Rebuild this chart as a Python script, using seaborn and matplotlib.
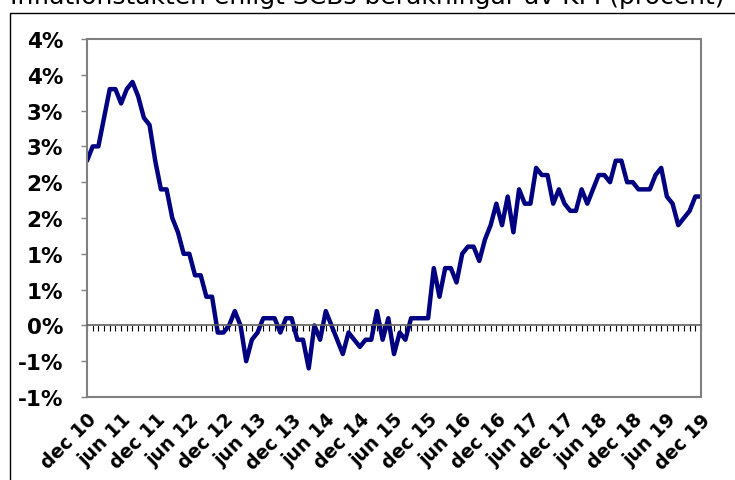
import matplotlib
matplotlib.use("Agg")
import matplotlib.pyplot as plt
from matplotlib.patches import Rectangle
import pandas as pd
import seaborn as sns

# Data: KPI inflation (percent), monthly dec 2010 - dec 2019
title = "Inflationstakten enligt SCBs beräkningar av KPI (procent)"
sv_months = ["jan", "feb", "mar", "apr", "maj", "jun", "jul", "aug", "sep", "okt", "nov", "dec"]
dates = pd.date_range("2010-12-01", "2019-12-01", freq="MS")
month_labels = [f"{sv_months[d.month - 1]} {d.strftime('%y')}" for d in dates]

inflation = [
    2.3,                                                              # dec 10
    2.5, 2.5, 2.9, 3.3, 3.3, 3.1, 3.3, 3.4, 3.2, 2.9, 2.8, 2.3,        # 2011
    1.9, 1.9, 1.5, 1.3, 1.0, 1.0, 0.7, 0.7, 0.4, 0.4, -0.1, -0.1,      # 2012
    0.0, 0.2, 0.0, -0.5, -0.2, -0.1, 0.1, 0.1, 0.1, -0.1, 0.1, 0.1,    # 2013
    -0.2, -0.2, -0.6, 0.0, -0.2, 0.2, 0.0, -0.2, -0.4, -0.1, -0.2, -0.3,  # 2014
    -0.2, -0.2, 0.2, -0.2, 0.1, -0.4, -0.1, -0.2, 0.1, 0.1, 0.1, 0.1,  # 2015
    0.8, 0.4, 0.8, 0.8, 0.6, 1.0, 1.1, 1.1, 0.9, 1.2, 1.4, 1.7,        # 2016
    1.4, 1.8, 1.3, 1.9, 1.7, 1.7, 2.2, 2.1, 2.1, 1.7, 1.9, 1.7,        # 2017
    1.6, 1.6, 1.9, 1.7, 1.9, 2.1, 2.1, 2.0, 2.3, 2.3, 2.0, 2.0,        # 2018
    1.9, 1.9, 1.9, 2.1, 2.2, 1.8, 1.7, 1.4, 1.5, 1.6, 1.8, 1.8,        # 2019
]

y_ticks = [-1.0, -0.5, 0.0, 0.5, 1.0, 1.5, 2.0, 2.5, 3.0, 3.5, 4.0]
y_tick_labels = ["-1%", "-1%", "0%", "1%", "1%", "2%", "2%", "3%", "3%", "4%", "4%"]

df = pd.DataFrame({"pos": range(len(inflation)), "month": month_labels, "value": inflation})
label_pos = df["pos"][::6].tolist()
label_txt = df["month"][::6].tolist()

sns.set_style("white")
plt.rcParams["font.family"] = ["DejaVu Sans"]
plt.rcParams["text.color"] = "black"
plt.rcParams["xtick.color"] = "black"
plt.rcParams["ytick.color"] = "black"

fig = plt.figure(figsize=(7.35, 4.81), dpi=100)
ax = fig.add_axes([87 / 735, 1 - 398 / 481, 614 / 735, 358 / 481])

sns.lineplot(data=df, x="pos", y="value", ax=ax, color="#000080", linewidth=3.2)

ax.set_xlim(df["pos"].min(), df["pos"].max())
ax.set_ylim(-1.0, 4.0)
ax.set_xlabel("")
ax.set_ylabel("")

# y axis
ax.set_yticks(y_ticks)
ax.set_yticklabels(y_tick_labels, fontsize=15.5, fontweight="bold")
ax.tick_params(axis="y", direction="out", length=4.3, width=1, color="#808080",
               labelcolor="black", pad=13, left=True)

# plot border
for side in ["top", "left", "right"]:
    ax.spines[side].set_color("#808080")
    ax.spines[side].set_linewidth(1.5)

# category axis crosses at zero, with a tick for every month
ax.spines["bottom"].set_position(("data", 0))
ax.spines["bottom"].set_color("#606060")
ax.spines["bottom"].set_linewidth(1.2)
ax.set_xticks(df["pos"])
ax.set_xticklabels([])
ax.tick_params(axis="x", direction="out", length=4.5, width=0.8, color="black", bottom=True)

# labels at the bottom of the plot
sec = ax.secondary_xaxis(0)
sec.set_xticks(label_pos)
sec.set_xticklabels(label_txt, rotation=45, ha="right", rotation_mode="anchor",
                    fontsize=13.5, fontweight="bold", color="black")
sec.tick_params(axis="x", length=0, pad=9)
sec.spines["bottom"].set_color("#808080")
sec.spines["bottom"].set_linewidth(1.5)

# outer chart frame and cut-off title
fig.patches.append(Rectangle((10 / 735, -0.1), 1.2, 1.1 - 14 / 481, transform=fig.transFigure,
                             fill=False, edgecolor="black", linewidth=1, zorder=0))
fig.text(0.5, 1 - 4 / 481, title, ha="center", va="baseline", fontsize=18, color="black")

fig.savefig("out.png", dpi=100)
